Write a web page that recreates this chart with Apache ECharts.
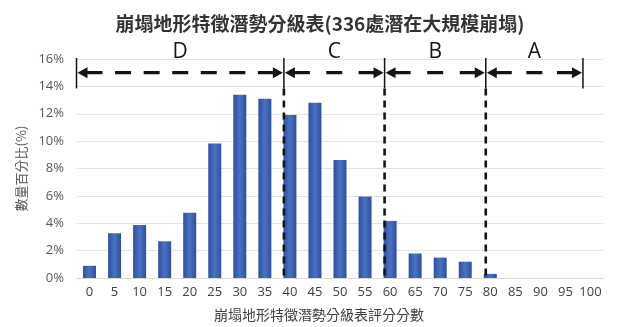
<!DOCTYPE html>
<html>
<head>
<meta charset="utf-8">
<script src="https://cdn.jsdelivr.net/npm/echarts@6/dist/echarts.min.js"></script>
<style>
  html, body { margin: 0; padding: 0; background: #fff; }
  #chart { width: 617px; height: 327px; }
</style>
</head>
<body>
<div id="chart"></div>
<script>
// Score classes on the x axis (0–100, step 5)
const scoreLabels = ['0', '5', '10', '15', '20', '25', '30', '35', '40', '45', '50',
  '55', '60', '65', '70', '75', '80', '85', '90', '95', '100'];
// Share of the 336 potential large-scale landslides in each score class (%)
const sharePercent = [0.89, 3.27, 3.87, 2.68, 4.76, 9.82, 13.39, 13.10, 11.90, 12.80, 8.63,
  5.95, 4.17, 1.79, 1.49, 1.19, 0.30, 0, 0, 0, 0];
// Grade bands, expressed in score units
const gradeNames = ['D', 'C', 'B', 'A'];
const gradeStarts = [-2.6, 38.8, 58.9, 79.1];
const gradeEnds = [38.8, 58.9, 79.1, 98.5];
// Band boundaries; 1 = dashed guide down to the baseline
const boundaryScores = [-2.6, 38.8, 58.9, 79.1, 98.5];
const boundaryDropLine = [0, 1, 1, 1, 0];
// y axis range (%)
const yMin = 0, yMax = 16, yStep = 2;
const arrowLevel = 15, capLow = 14;

const latinFont = '"Open Sans", "Noto Sans CJK TC", sans-serif';
const cjkFont = '"Noto Sans CJK TC", "Noto Sans", sans-serif';
const ink = '#141414';

const chart = echarts.init(document.getElementById('chart'), null, { renderer: 'canvas' });

function renderGrade(params, api) {
  const a = api.coord([api.value(0), arrowLevel]);
  const b = api.coord([api.value(1), arrowLevel]);
  const top = api.coord([0, yMax])[1];
  const y = a[1];
  const head = 10, half = 5.5, dash = 16;
  const x1 = a[0] + 1, x2 = b[0] - 1;
  const total = (x2 - head + 1) - (x1 + head - 1);
  const n = Math.max(2, Math.round((total + 12) / 28));
  const gap = (total - n * dash) / (n - 1);
  return {
    type: 'group',
    children: [
      { type: 'polygon', shape: { points: [[x1, y], [x1 + head, y - half], [x1 + head, y + half]] },
        style: { fill: ink } },
      { type: 'polygon', shape: { points: [[x2, y], [x2 - head, y - half], [x2 - head, y + half]] },
        style: { fill: ink } },
      { type: 'line', shape: { x1: x1 + head - 1, y1: y, x2: x2 - head + 1, y2: y },
        style: { stroke: ink, lineWidth: 3.2, lineDash: [dash, gap] } },
      { type: 'text',
        style: { text: gradeNames[params.dataIndex], x: (x1 + x2) / 2, y: top - 7,
          align: 'center', verticalAlign: 'middle', fontSize: 21, fontFamily: latinFont, fill: ink } }
    ]
  };
}

function renderBoundary(params, api) {
  const x = api.coord([api.value(0), 0])[0];
  const top = api.coord([0, yMax])[1] - 1;
  const capBottom = api.coord([0, capLow])[1] + 2;
  const base = api.coord([0, yMin])[1];
  const children = [
    { type: 'line', shape: { x1: x, y1: top, x2: x, y2: capBottom },
      style: { stroke: ink, lineWidth: 1.5 } }
  ];
  if (api.value(1)) {
    children.push({ type: 'line', shape: { x1: x, y1: capBottom, x2: x, y2: base },
      style: { stroke: ink, lineWidth: 2.6, lineDash: [7, 5] } });
  }
  return { type: 'group', children };
}

chart.setOption({
  animation: false,
  backgroundColor: '#ffffff',
  title: {
    text: '崩塌地形特徵潛勢分級表(336處潛在大規模崩塌)',
    left: 315, top: 9, textAlign: 'center',
    textStyle: { fontFamily: cjkFont, fontSize: 19, fontWeight: 'bold', color: '#333333' }
  },
  grid: { left: 77, right: 14, top: 59, bottom: 45, containLabel: false },
  xAxis: [
    {
      type: 'category',
      data: scoreLabels,
      boundaryGap: true,
      axisLine: { lineStyle: { color: '#d9d9d9', width: 1 } },
      axisTick: { show: false },
      axisLabel: { color: '#404040', fontSize: 13, fontFamily: latinFont, margin: 8, interval: 0 },
      name: '崩塌地形特徵潛勢分級表評分分數',
      nameLocation: 'middle',
      nameGap: 30,
      nameTextStyle: { color: '#404040', fontSize: 14, fontFamily: cjkFont, padding: [0, 42, 0, 0] }
    },
    { type: 'value', min: -2.5, max: 102.5, show: false }
  ],
  yAxis: {
    type: 'value',
    min: yMin, max: yMax, interval: yStep,
    axisLine: { show: false },
    axisTick: { show: false },
    axisLabel: { formatter: '{value}%', color: '#595959', fontSize: 13, fontFamily: latinFont, margin: 13 },
    splitLine: { lineStyle: { color: '#e3e3e3', width: 1 } },
    name: '數量百分比(%)',
    nameLocation: 'middle',
    nameRotate: 90,
    nameGap: 48,
    nameTextStyle: { color: '#595959', fontSize: 13, fontFamily: cjkFont }
  },
  series: [
    {
      type: 'bar',
      data: sharePercent,
      barWidth: 13,
      itemStyle: {
        color: new echarts.graphic.LinearGradient(0, 0, 1, 0, [
          { offset: 0, color: '#2d50a0' },
          { offset: 0.5, color: '#4c71c3' },
          { offset: 1, color: '#2d50a0' }
        ])
      }
    },
    {
      type: 'custom',
      xAxisIndex: 1,
      yAxisIndex: 0,
      renderItem: renderBoundary,
      data: boundaryScores.map((s, i) => [s, boundaryDropLine[i]]),
      z: 5,
      silent: true
    },
    {
      type: 'custom',
      xAxisIndex: 1,
      yAxisIndex: 0,
      renderItem: renderGrade,
      data: gradeStarts.map((s, i) => [s, gradeEnds[i]]),
      z: 6,
      silent: true
    }
  ]
});
</script>
</body>
</html>
